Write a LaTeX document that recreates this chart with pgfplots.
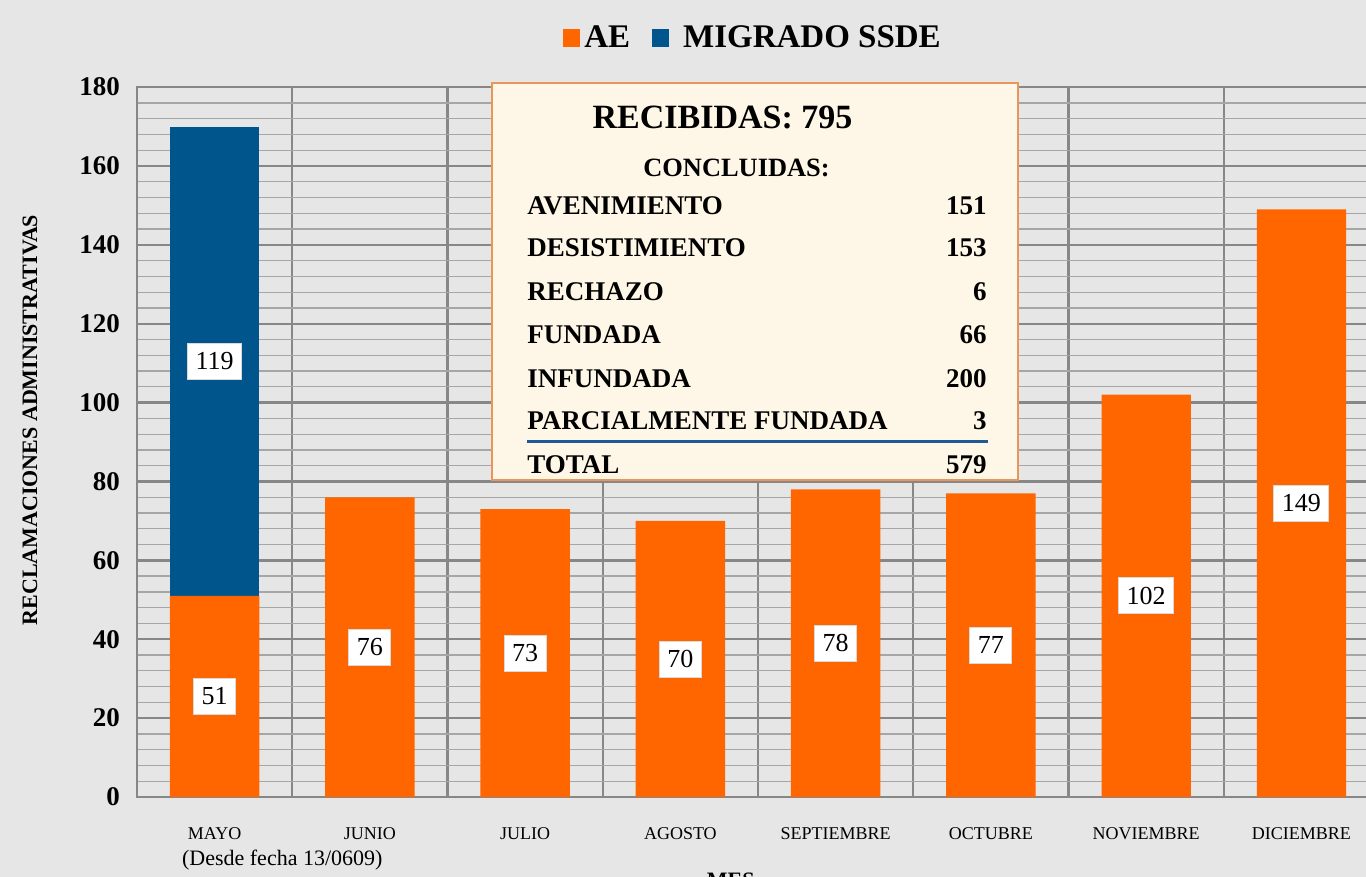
\documentclass[border=0pt]{standalone}
\usepackage{pgfplots}
\pgfplotsset{compat=1.18}
\usepackage{fontspec}
\setmainfont{Liberation Serif}
\usetikzlibrary{backgrounds}

\definecolor{ae}{RGB}{255,102,0}
\definecolor{ssde}{RGB}{0,85,140}
\definecolor{bg}{RGB}{230,230,230}
\definecolor{boxfill}{RGB}{254,246,230}
\definecolor{boxline}{RGB}{232,150,90}
\definecolor{rulecol}{RGB}{30,90,150}

\newcommand{\fs}[1]{\fontsize{#1}{#1}\selectfont}

\begin{document}
\begin{tikzpicture}
\begin{axis}[
  x=77.625pt, y=1.972pt,
  ybar stacked, bar width=0.575,
  xmin=-0.5, xmax=7.5, ymin=0, ymax=180,
  clip=false,
  xtick={0,...,7},
  xticklabels={MAYO,JUNIO,JULIO,AGOSTO,SEPTIEMBRE,OCTUBRE,NOVIEMBRE,DICIEMBRE},
  minor xtick={-0.5,0.5,...,7.5},
  ytick={0,20,...,180},
  minor y tick num=4,
  major tick length=0pt, minor tick length=0pt,
  xminorgrids, ymajorgrids, yminorgrids,
  major grid style={draw=black!47, line width=1.2pt},
  minor grid style={draw=black!35, line width=0.65pt},
  x grid style={draw=black!47, line width=1.2pt},
  axis line style={draw=black!47, line width=1.2pt},
  /pgf/number format/assume math mode=true,
  /pgf/number format/1000 sep={},
  yticklabel style={font=\bfseries\fs{13.5}, xshift=-5pt},
  xticklabel style={font=\fs{9}, anchor=north, yshift=-12pt},
  xlabel={MES},
  xlabel style={at={(rel axis cs:0.478,0)}, anchor=north, yshift=-34.5pt, font=\bfseries\fs{11}},
  ylabel={RECLAMACIONES ADMINISTRATIVAS},
  ylabel style={at={(rel axis cs:0,0.531)}, anchor=center, yshift=53.5pt, font=\bfseries\fs{11}},
  legend style={at={(rel axis cs:0.5,1)}, anchor=center, yshift=24.5pt, xshift=-2pt,
    draw=none, fill=none, legend columns=-1, font=\bfseries\fs{16.5},
    /tikz/every even column/.append style={column sep=9pt}},
  legend image code/.code={\fill[#1] (0pt,-4.5pt) rectangle (8.5pt,4.5pt);},
  visualization depends on=rawy \as \rawy,
  nodes near coords={\pgfmathprintnumber{\rawy}},
  every node near coord/.append style={fill=white, draw=white!85!black, line width=0.4pt,
    font=\fs{13}, anchor=center, inner xsep=4pt, inner ysep=2pt,
    minimum height=18pt},
]
\addplot[fill=ae, draw=none] coordinates {
  (0,51) (1,76) (2,73) (3,70) (4,78) (5,77) (6,102) (7,149)};
\addlegendentry{AE}
\addplot[fill=ssde, draw=none] coordinates {(0,119)};
\addlegendentry{\hspace{5pt}MIGRADO SSDE}

\node[anchor=west, font=\fs{11}] at (axis cs:-0.255,-16) {(Desde fecha 13/0609)};

\coordinate (bbsw) at (axis cs:-1.3825,-20.28);
\coordinate (bbne) at (axis cs:7.4163,202.08);
\coordinate (tl) at (axis cs:-1.3825,202.08);
\end{axis}

% cuadro resumen (coordenadas en pixeles de la imagen)
\begin{scope}[shift={(tl)}, x=0.5pt, y=-0.5pt]
\draw[fill=boxfill, draw=boxline, line width=1pt] (492,83) rectangle (1018,480);
\node[font=\bfseries\fs{17}] at (722.5,117) {RECIBIDAS: 795};
\node[font=\bfseries\fs{13.2}] at (736.5,168) {CONCLUIDAS:};
\begin{scope}[every node/.style={font=\bfseries\fs{13.5}, inner sep=0pt}]
\node[anchor=west] at (527,206) {AVENIMIENTO};
\node[anchor=east] at (987,206) {151};
\node[anchor=west] at (527,248) {DESISTIMIENTO};
\node[anchor=east] at (987,248) {153};
\node[anchor=west] at (527,292) {RECHAZO};
\node[anchor=east] at (987,292) {6};
\node[anchor=west] at (527,335) {FUNDADA};
\node[anchor=east] at (987,335) {66};
\node[anchor=west] at (527,379) {INFUNDADA};
\node[anchor=east] at (987,379) {200};
\node[anchor=west] at (527,421) {PARCIALMENTE FUNDADA};
\node[anchor=east] at (987,421) {3};
\node[anchor=west] at (527,465) {TOTAL};
\node[anchor=east] at (987,465) {579};
\end{scope}
\draw[rulecol, line width=1.5pt] (527,441) -- (988,441);
\end{scope}

\pgfresetboundingbox
\begin{scope}[on background layer]
  \fill[bg] (bbsw) rectangle (bbne);
\end{scope}
\useasboundingbox (bbsw) rectangle (bbne);
\end{tikzpicture}
\end{document}
